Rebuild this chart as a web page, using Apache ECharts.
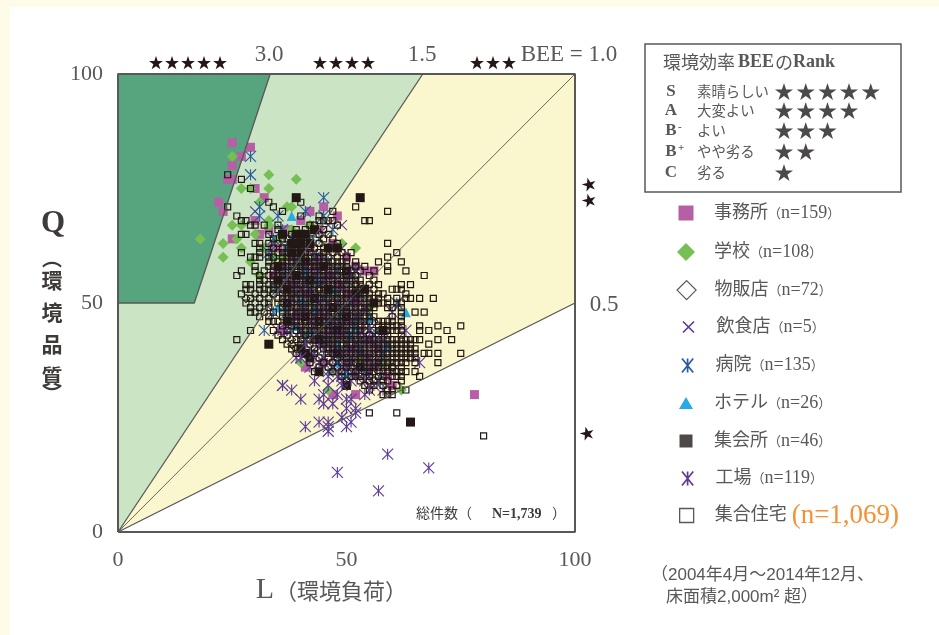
<!DOCTYPE html>
<html>
<head>
<meta charset="utf-8">
<style>
  html, body { margin: 0; padding: 0; background: #fffbe9; }
  #main { position: absolute; left: 10px; top: 7px; width: 929px; height: 628px; background: #fff; }
</style>
<script src="https://cdn.jsdelivr.net/npm/echarts@6/dist/echarts.min.js"></script>
</head>
<body>
<div id="main"></div>
<script>
const buildingNames = ["事務所", "学校", "物販店", "飲食店", "病院", "ホテル", "集会所", "工場", "集合住宅"];
const buildingCounts = ["n=159", "n=108", "n=72", "n=5", "n=135", "n=26", "n=46", "n=119", "n=1,069"];

// BEE の領域と線 (L, Q)
const zoneLightGreen = [[0, 0], [66.7, 100], [0, 100]];
const zoneYellow = [[0, 0], [100, 50], [100, 100], [66.7, 100]];
const zoneDarkGreen = [[0, 50], [16.7, 50], [33.3, 100], [0, 100]];
const lineBee05 = [[0, 0], [100, 50]];
const lineBee10 = [[0, 0], [100, 100]];
const lineBee15 = [[0, 0], [66.7, 100]];
const lineBeeS = [[0, 50], [16.7, 50], [33.3, 100]];
const frame = [[0, 0], [100, 0], [100, 100], [0, 100], [0, 0]];

// 図から読み取った値 [L, Q]
const officeData = [[25,85],[29,84],[27,82],[25,80],[24,77],[25,77],[30,75],[22,72],[23,70],[25,64],[32,73],[45,71],[48,69],[47,63],[44,66],[44,60],[54,57],[56,57],[36,44],[47,30],[52,30],[60,32],[78,30],
  [30,68],[33,66],[35,62],[37,66],[38,60],[40,68],[42,62],[43,58],[46,56],[48,54],[50,52],[52,50],[41,52],[39,47],[44,48],[46,44],[49,46],[53,44],[51,40],[47,40],[55,42],[43,42],[40,56],[38,54],[36,58],[34,56],[45,37],[49,36],[54,38],[57,40],[56,36],[59,34],[41,36],[33,62],[31,65],[42,70],[50,60],[52,58]];
const schoolData = [[25,82],[33,78],[27,75],[29,75],[33,75],[39,77],[18,64],[23,63],[25,67],[23,60],[27,62],[26,64],[31,72],[37,71],[38,71],[33,68],[27,67],[33,67],[52,62],[49,63],[42,67],[40,37],[47,35],[46,31],[62,31],
  [30,65],[32,62],[29,59],[34,60],[31,56],[36,60],[35,64],[38,66],[40,58],[43,55],[46,52],[49,49],[44,45],[41,43],[47,42],[52,46],[55,49],[50,43],[53,38],[58,37],[42,50],[38,52]];
const shopData = [[28,51],[60,36],[38,42],[38,41],[39,40],[54,34],[34,52],[36,50],[41,46],[45,41],[48,47],[52,54],[44,53],[56,46],[50,38],[57,35]];
const restaurantData = [[30,70],[49,67],[46,67],[47,62],[49,62]];
const hospitalData = [[29,82],[29,78],[31,71],[31,69],[35,69],[45,73],[45,69],[47,66],[41,70],[38,64],[44,64],[52,57],[32,44],[57,33],[61,50],
  [36,66],[34,64],[33,61],[37,62],[39,59],[42,64],[43,60],[36,56],[38,57],[41,55],[44,57],[46,59],[48,57],[50,55],[39,52],[42,53],[45,51],[48,52],[51,50],[53,52],[37,48],[40,49],[43,47],[46,48],[49,45],[52,47],[55,45],[38,44],[41,42],[44,43],[47,44],[50,41],[53,42],[56,43],[42,39],[45,38],[48,37],[51,37],[54,35],[46,35],[49,34],[38,46],[35,53],[34,48],[58,39]];
const hotelData = [[38,69],[35,49],[63,48],[50,35],[48,37],[59,41],
  [41,57],[44,55],[47,53],[40,51],[43,49],[46,46],[49,48],[52,45],[39,45],[42,44],[45,42],[48,41],[51,43],[53,40],[55,47]];
const meetingData = [[53,73],[39,73],[36,65],[35,58],[35,55],[40,65],[41,65],[40,63],[42,63],[40,61],[43,66],[39,65],[38,63],[39,63],[38,61],[41,59],[46,62],[48,62],[54,53],[50,57],[33,41],[40,40],[41,39],[42,38],[44,35],[48,39],[50,32],[53,36],[64,24],[58,44],[37,53],[37,50],[37,46],[56,50],[42,55],[45,58],[47,49],[44,46],[50,47],[41,47],[52,52],[46,53],[43,51],[48,44],[39,56],[44,42]];
const factoryData = [[59,17],[68,14],[48,13],[57,9],[36,32],[38,31],[40,29],[44,29],[45,30],[45,28],[47,28],[46,32],[46,34],[49,33],[49,32],[50,29],[51,29],[50,27],[52,27],[49,25],[51,24],[50,23],[52,26],[44,24],[46,24],[41,23],[46,23],[46,22],[54,30],[55,31],[63,44],[66,37],[60,48],[36,32],[48,30],[52,34],[54,33],[56,32],[58,31],[43,33],[37,44],[35,44],[39,38],[40,38],[41,41],
  [37,55],[39,54],[41,58],[43,56],[45,55],[47,56],[49,54],[51,56],[38,51],[40,53],[42,52],[44,50],[46,50],[48,50],[50,49],[52,51],[54,49],[39,48],[41,49],[43,45],[45,47],[47,46],[49,43],[51,46],[53,47],[55,44],[40,44],[42,46],[44,41],[46,42],[48,43],[50,44],[52,41],[54,42],[56,41],[58,42],[43,39],[45,40],[47,38],[49,39],[51,38],[53,39],[55,38],[57,37],[47,36],[50,36],[52,35],[55,35],[48,34],[51,33],[42,36],[44,37]];
const apartmentRows = [
  [78,[24]],[77,[27]],[75,[29]],[72,[33,40]],[71,[24,34,52]],[70,[36,47,59]],[69,[26,40,44]],
  [68,[27,28,44,45,46,47,54,55]],[67,[29,30,32,35,42,43,48]],[66,[35,39,41,45]],
  [65,[27,28,33,36,38,41,44,46]],[64,[34,36,37,39,42,45,47]],[63,[30,31,33,35,38,41,44,48,59]],
  [62,[31,34,36,37,39,40,42,43,45,46,48]],
  [61,[27,31,33,35,36,37,38,39,41,42,44,45,47,49,51,61]],
  [60,[29,30,31,33,34,36,37,38,39,40,41,42,43,44,45,46,48,50,59]],
  [59,[33,35,36,37,38,39,40,41,42,43,44,45,46,47,48,49,50,52,57,62]],
  [58,[30,33,34,36,37,38,39,40,41,42,43,44,45,46,47,48,49,50,52,54,59]],
  [57,[27,30,32,34,35,36,37,38,39,40,41,42,43,44,45,46,47,48,49,50,51,53,56,59,63]],
  [56,[26,31,33,34,35,36,37,38,39,40,41,42,43,44,45,46,47,48,49,50,51,52,55,67]],
  [55,[31,32,34,35,36,37,38,39,40,41,42,43,44,45,46,47,48,49,50,51,52,53,56]],
  [54,[28,29,31,33,34,35,36,37,38,39,40,41,42,43,44,45,46,47,48,49,50,51,52,53,55,57,62,64]],
  [53,[28,29,31,32,33,34,35,36,37,38,39,40,41,42,43,44,45,46,47,48,49,50,51,52,53,54,56,60,61,62]],
  [52,[27,30,32,34,36,37,38,39,40,41,42,43,44,45,46,47,48,49,50,51,52,53,54,55,57,58,63]],
  [51,[29,31,33,35,36,37,38,39,40,41,42,43,44,45,46,47,48,49,50,51,52,53,54,55,56,57,59,61,63,64,66,69]],
  [50,[28,30,32,33,35,37,38,39,40,41,42,43,44,45,46,47,48,49,50,51,52,53,54,55,56,57,58,59,61,62]],
  [49,[29,31,33,36,37,38,39,40,41,42,43,44,45,46,47,48,49,50,51,52,53,54,55,56,59,60,62]],
  [48,[29,30,32,34,36,37,38,39,40,41,42,43,44,45,46,47,48,49,50,51,52,53,54,55,62,65,67]],
  [47,[31,33,36,37,38,39,40,41,42,43,44,45,46,47,48,49,50,51,52,53,54,55,56,60,62]],
  [46,[33,34,35,37,38,39,40,41,42,43,44,45,46,47,48,49,50,51,52,53,54,55,57,58,59,60,62]],
  [45,[36,38,39,40,41,42,43,44,45,46,47,48,49,50,51,52,53,54,57,58,59,60,61,62,66,70,75]],
  [44,[29,34,37,39,40,41,42,43,44,45,46,47,48,49,50,51,52,53,54,56,57,58,59,60,61,62,66,68,72]],
  [43,[35,37,40,41,42,43,44,45,46,47,48,49,50,51,52,53,55,57,59,62]],
  [42,[26,36,39,40,42,43,44,45,46,47,48,49,50,51,52,53,54,55,56,57,58,59,60,61,62,63,64,65,66,70,73]],
  [41,[37,40,42,44,45,46,47,48,49,50,51,52,53,54,55,56,57,58,59,60,61,62,63,64,68]],
  [40,[38,43,45,46,47,48,49,50,51,52,53,54,55,56,57,58,59,60,61,62,63,64,65]],
  [39,[39,43,46,47,49,50,51,52,53,54,55,56,57,58,59,60,61,62,63,64,65,67,68,70,75]],
  [38,[44,46,48,49,50,51,52,53,54,55,56,57,58,59,60,61,62,63,64,65]],
  [37,[42,45,47,49,50,51,52,53,54,55,56,57,58,59,60,61,62,63,65,70]],
  [36,[44,46,48,50,51,53,54,55,56,57,58,59,60,62]],
  [35,[43,47,49,51,52,54,55,56,58,59,60,61,62,63,65]],
  [34,[49,51,52,53,55,57,58,60,61,62,66]],
  [33,[50,53,55,56,58,59,62]],[32,[54,56,58,61]],[31,[55,59,60,63]],[30,[58,59,60]],
  [26,[55,61]],[21,[80]]
];
const apartmentData = [];
apartmentRows.forEach(function (row) {
  row[1].forEach(function (l) { apartmentData.push([l, row[0]]); });
});

const rankLetters = ["S", "A", "B", "B", "C"];
const rankLabels = ["素晴らしい", "大変よい", "よい", "やや劣る", "劣る"];
const rankStarCounts = [5, 4, 3, 2, 1];

const seriesData = [officeData, schoolData, shopData, restaurantData, hospitalData, hotelData, meetingData, factoryData, apartmentData];
const pathX = "path://M0 0L10 10M10 0L0 10";
const pathAst = "path://M1 0L9 10M9 0L1 10M5 0L5 10";
// 系列ごとの見た目
const marks = [
  { symbol: "rect", size: 9, style: { color: "#b65fa4" }, lw: 15, lh: 15, icon: "rect" },
  { symbol: "diamond", size: 11, style: { color: "#76bf55" }, lw: 18, lh: 18, icon: "diamond" },
  { symbol: "diamond", size: 8, style: { color: "none", borderColor: "#231815", borderWidth: 1.1 }, lw: 19, lh: 19, icon: "diamond", lstyle: { color: "#fff", borderColor: "#595757", borderWidth: 1.2 } },
  { symbol: pathX, size: 10, style: { color: "none", borderColor: "#5f3b98", borderWidth: 1.1 }, lw: 11, lh: 11, icon: pathX, lstyle: { color: "none", borderColor: "#5f3b98", borderWidth: 1.7 } },
  { symbol: pathAst, size: 11, style: { color: "none", borderColor: "#2c5a9e", borderWidth: 1.1 }, lw: 13, lh: 14, icon: pathAst, lstyle: { color: "none", borderColor: "#2c5a9e", borderWidth: 1.7 } },
  { symbol: "triangle", size: 10, style: { color: "#29abe2" }, lw: 14, lh: 12, icon: "triangle" },
  { symbol: "rect", size: 9, style: { color: "#231815" }, lw: 13, lh: 13, icon: "rect", lstyle: { color: "#4c4948" } },
  { symbol: pathAst, size: 11, style: { color: "none", borderColor: "#5f3b98", borderWidth: 1.1 }, lw: 13, lh: 14, icon: pathAst, lstyle: { color: "none", borderColor: "#5f3b98", borderWidth: 1.7 } },
  { symbol: "rect", size: 6, style: { color: "none", borderColor: "#231815", borderWidth: 1.2 }, lw: 14, lh: 14, icon: "rect", lstyle: { color: "#fff", borderColor: "#595757", borderWidth: 1.3 } }
];
const legendRows = [204, 243, 280, 318, 356, 394, 432, 469, 502];

const GRAY = "#595757";
const DARK = "#231815";
const SERIF = "'Liberation Serif','Noto Sans CJK JP'";
const GOTHIC = "'Noto Sans CJK JP'";
const SANS = "'Liberation Sans','Noto Sans CJK JP'";
const OX = -10, OY = -7; // ページ座標からキャンバス座標へ

function label(x, y, text, size, extra) {
  return {
    type: "text", x: x + OX, y: y + OY, z: 20,
    style: Object.assign({ text: text, fontSize: size, fontFamily: SERIF, fill: GRAY, align: "center", verticalAlign: "middle" }, extra || {})
  };
}

const graphics = [
  label(269, 55, "3.0", 23),
  label(422, 55, "1.5", 23),
  label(569, 55, "BEE = 1.0", 23),
  label(604, 305, "0.5", 23),
  Object.assign(label(589, 184, "★", 15, { fontFamily: GOTHIC, fill: DARK }), { rotation: 0.25 }),
  Object.assign(label(589, 200, "★", 15, { fontFamily: GOTHIC, fill: DARK }), { rotation: 0.25 }),
  Object.assign(label(587, 433, "★", 15, { fontFamily: GOTHIC, fill: DARK }), { rotation: 0.25 }),
  label(53, 224, "Q", 31, { fontWeight: "bold", fill: "#3e3a39" }),
  label(52, 258, "︵", 20, { fontFamily: GOTHIC, fontWeight: "bold", fill: "#3e3a39" }),
  label(52, 280, "環", 21, { fontFamily: GOTHIC, fontWeight: "bold", fill: "#3e3a39" }),
  label(52, 312, "境", 21, { fontFamily: GOTHIC, fontWeight: "bold", fill: "#3e3a39" }),
  label(52, 344, "品", 21, { fontFamily: GOTHIC, fontWeight: "bold", fill: "#3e3a39" }),
  label(52, 376, "質", 21, { fontFamily: GOTHIC, fontWeight: "bold", fill: "#3e3a39" }),
  label(52, 394, "︶", 20, { fontFamily: GOTHIC, fontWeight: "bold", fill: "#3e3a39" }),
  label(265, 590, "L", 30),
  label(341, 591, "\uFF08環境負荷\uFF09", 22, { fontFamily: GOTHIC }),
  label(416, 513, "総件数\uFF08", 14, { fontFamily: GOTHIC, align: "left", fill: "#3e3a39" }),
  label(492, 514, "N=1,739", 14, { fontWeight: "bold", align: "left", fill: "#3e3a39" }),
  label(552, 513, "\uFF09", 14, { fontFamily: GOTHIC, align: "left", fill: "#3e3a39" }),
  {
    type: "rect", z: 5, x: 645 + OX, y: 44 + OY,
    shape: { width: 256, height: 148 },
    style: { fill: "#fff", stroke: GRAY, lineWidth: 1.5 }
  },
  label(663, 62, "環境効率", 18, { fontFamily: GOTHIC, align: "left" }),
  label(738, 62, "BEE", 18, { fontWeight: "bold", align: "left" }),
  label(775, 62, "の", 18, { fontFamily: GOTHIC, align: "left" }),
  label(793, 62, "Rank", 18, { fontWeight: "bold", align: "left" }),
  label(651, 575, "\uFF082004年4月\uFF5E2014年12月、", 17, { fontFamily: SANS, align: "left" }),
  label(666, 597, "床面積2,000m² 超\uFF09", 17, { fontFamily: SANS, align: "left" })
];

function addStars(x, y, n, step, size, color) {
  for (let j = 0; j < n; j++) {
    graphics.push(label(x + j * step, y, "★", size, { fontFamily: GOTHIC, fill: color }));
  }
}
addStars(156, 62, 5, 16, 15, DARK);
addStars(320, 62, 4, 16, 15, DARK);
addStars(477, 62, 3, 16, 15, DARK);

[92, 111, 131, 152, 173].forEach(function (y, i) {
  graphics.push(label(671, y, rankLetters[i], 17, { fontWeight: "bold" }));
  graphics.push(label(697, y, rankLabels[i], 14.4, { fontFamily: GOTHIC, align: "left" }));
  addStars(784, y, rankStarCounts[i], 21.7, 19, "#4c4948");
});
graphics.push(label(678, 127, "-", 11, { fontWeight: "bold", align: "left" }));
graphics.push(label(678, 148, "+", 11, { fontWeight: "bold", align: "left" }));

function renderZone(params, api) {
  const zones = [zoneLightGreen, zoneYellow, zoneDarkGreen];
  const fills = ["#cbe4c3", "#faf6cd", "#56a57f"];
  const i = params.dataIndex;
  return {
    type: "polygon",
    shape: { points: zones[i].map(function (p) { return api.coord(p); }) },
    style: { fill: fills[i] }
  };
}

function beeLine(data, width) {
  return {
    type: "line", data: data, symbol: "none", silent: true, animation: false, clip: false,
    lineStyle: { color: GRAY, width: width }
  };
}

const series = [
  { type: "custom", data: [[0], [1], [2]], renderItem: renderZone, silent: true, clip: false },
  beeLine(lineBee05, 1.3), beeLine(lineBee10, 0.9), beeLine(lineBee15, 1.3), beeLine(lineBeeS, 1.3), beeLine(frame, 2)
];
buildingNames.forEach(function (name, i) {
  series.push({
    name: name, type: "scatter", data: seriesData[i],
    symbol: marks[i].symbol, symbolSize: marks[i].size,
    itemStyle: Object.assign({ opacity: 1 }, marks[i].style)
  });
});

const legends = buildingNames.map(function (name, i) {
  const m = marks[i];
  return {
    padding: 0,
    left: 686 - m.lw / 2 + OX, top: legendRows[i] + OY,
    itemWidth: m.lw, itemHeight: m.lh,
    data: [{ name: name, icon: m.icon, itemStyle: m.lstyle || m.style }],
    formatter: function (n) {
      if (i === 8) return "{a|" + n + "}{s| }{o|(" + buildingCounts[i] + ")}";
      return "{a|" + n + "}{p|\uFF08}{a|" + buildingCounts[i] + "}{p|\uFF09}";
    },
    textStyle: {
      padding: [0, 0, 0, 23 - m.lw / 2],
      rich: {
        a: { fontFamily: SERIF, fontSize: 18, color: GRAY, lineHeight: 24 },
        p: { fontFamily: GOTHIC, fontSize: 13, color: GRAY, lineHeight: 24 },
        s: { fontFamily: SERIF, fontSize: 20, lineHeight: 24 },
        o: { fontFamily: SERIF, fontSize: 27, color: "#f39133", lineHeight: 24 }
      }
    }
  };
});

const chart = echarts.init(document.getElementById("main"));
chart.setOption({
  animation: false,
  backgroundColor: "#fff",
  grid: { left: 118 + OX, top: 74 + OY, width: 457, height: 458 },
  xAxis: {
    type: "value", min: 0, max: 100, interval: 50,
    splitLine: { show: false }, axisTick: { show: false }, axisLine: { show: false },
    axisLabel: { color: GRAY, fontSize: 22, fontFamily: SERIF, margin: 17, showMinLabel: true, showMaxLabel: true }
  },
  yAxis: {
    type: "value", min: 0, max: 100, interval: 50,
    splitLine: { show: false }, axisTick: { show: false }, axisLine: { show: false },
    axisLabel: { color: GRAY, fontSize: 22, fontFamily: SERIF, margin: 15, showMinLabel: true, showMaxLabel: true }
  },
  legend: legends,
  series: series,
  graphic: graphics
});
</script>
</body>
</html>
